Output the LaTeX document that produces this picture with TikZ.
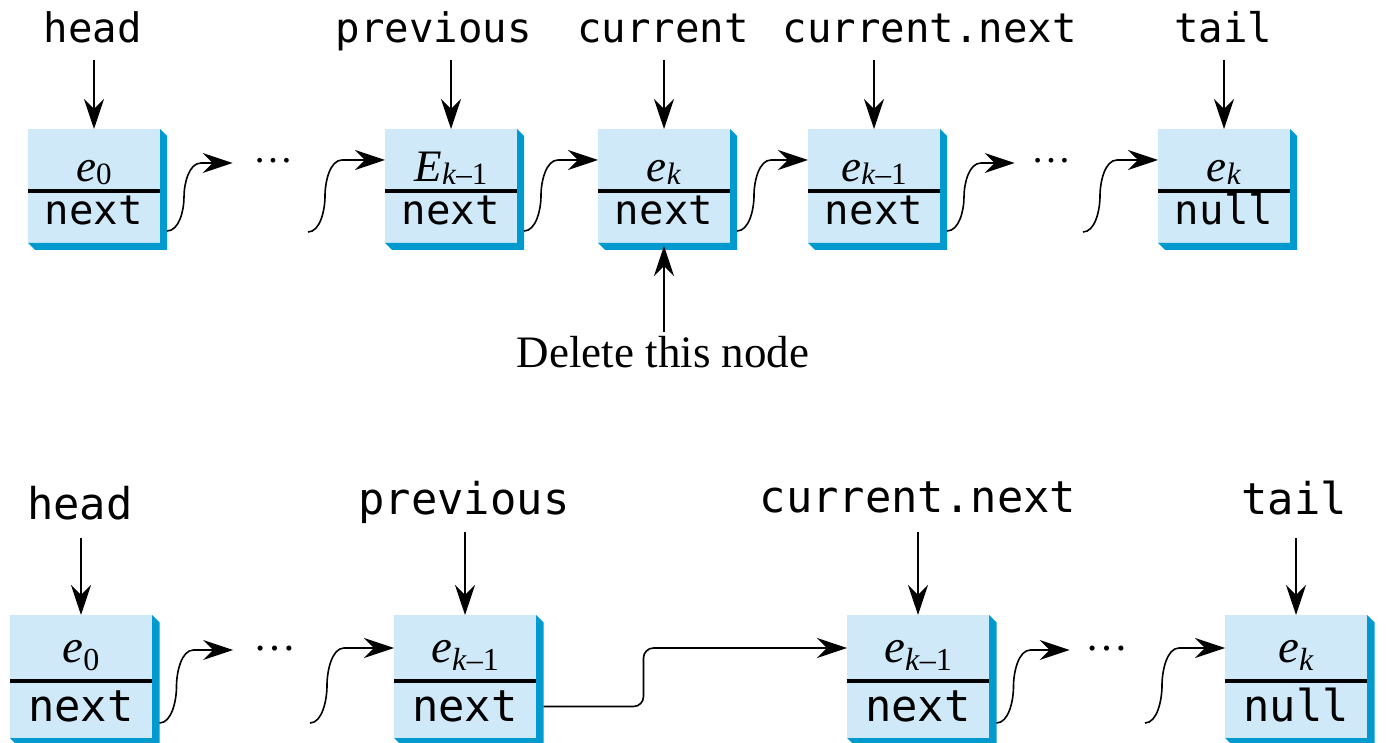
\documentclass[tikz,border=0pt]{standalone}
\usepackage{fontspec}
\setmainfont{Liberation Serif}
\setmonofont{DejaVu Sans Mono}
\usetikzlibrary{arrows.meta,calc}
\definecolor{facec}{RGB}{207,233,248}
\definecolor{shadc}{RGB}{0,154,206}
\newcommand{\subdrop}{-1.5pt}
\newcommand{\subsz}{15.5pt}
\newcommand{\elt}[2]{\textit{#1}\raisebox{\subdrop}{\fontsize{\subsz}{\subsz}\selectfont #2}}
\newcommand{\efont}{\fontsize{22.5pt}{26pt}\selectfont}
\newcommand{\ffont}{\ttfamily\fontsize{20.35pt}{24pt}\selectfont}
\newcommand{\bW}{66pt}
\newcommand{\bHt}{31pt}
\newcommand{\bHb}{26pt}
\newcommand{\bSh}{7}
\newcommand{\bEb}{53}
\newcommand{\bFb}{34}
\tikzset{
  face/.style={fill=facec, inner sep=0pt, outer sep=0pt},
  shadowfill/.style={fill=shadc},
  divider/.style={line width=1.8pt, black},
  elemtext/.style={inner sep=0pt, anchor=base, font=\efont},
  fieldtext/.style={inner sep=0pt, anchor=base, font=\ffont},
  toplbl/.style={anchor=base, inner sep=0pt, font=\ttfamily\fontsize{20.35pt}{24pt}\selectfont},
  botlbl/.style={anchor=base, inner sep=0pt, font=\ttfamily\fontsize{21.9pt}{26pt}\selectfont},
  dellbl/.style={anchor=base, inner sep=0pt, font=\fontsize{22.5pt}{26pt}\selectfont},
  dotsn/.style={anchor=base, inner ysep=0pt},
  arr/.style={-{Stealth[length=15pt,width=10pt,inset=5pt]}, line width=0.8pt},
  conn/.style={-{Stealth[length=15pt,width=10pt,inset=5pt]}, line width=0.8pt},
  sconn/.style={to path={let \p1=(\tikztostart), \p2=(\tikztotarget) in
    .. controls ({\x1+6pt},\y1) and ({\x1+8.5pt},{\y1+0.3*(\y2-\y1)}) .. ({\x1+8.5pt},{0.5*(\y1+\y2)})
    .. controls ({\x1+8.5pt},{\y2-0.3*(\y2-\y1)}) and ({\x1+11pt},\y2) .. ({\x1+17pt},\y2)
    -- (\tikztotarget)}}
}
\newcommand{\lbox}[5]{%
  \node[face, minimum width=\bW, minimum height=\bHt, anchor=north west] (#1-top) at (#2,#3) {};
  \node[face, minimum width=\bW, minimum height=\bHb, anchor=north west] (#1-bot) at (#1-top.south west) {};
  \fill[shadowfill] (#1-top.north east) -- ++(\bSh,\bSh) -- ($(#1-bot.south east)+(\bSh,\bSh)$)
     -- ($(#1-bot.south west)+(\bSh,\bSh)$) -- (#1-bot.south west) -- (#1-bot.south east) -- cycle;
  \draw[divider] (#1-bot.north west) -- (#1-bot.north east);
  \node[elemtext] (#1-e) at ($(#1-top.north)+(0,\bEb)$) {#4};
  \node[fieldtext] (#1-f) at ($(#1-bot.north)+(0,\bFb)$) {#5};
}
\begin{document}
\begin{tikzpicture}[x=0.5pt,y=-0.5pt]
\useasboundingbox (0,0) rectangle (1389,743);

% ---------- top row ----------
\lbox{a1}{28}{129}{\elt{e}{0}}{next}
\lbox{a2}{385}{129}{\elt{E}{\textit{k}–1}}{next}
\lbox{a3}{598}{129}{\elt{e}{\textit{k}}}{next}
\lbox{a4}{808}{129}{\elt{e}{\textit{k}–1}}{next}
\lbox{a5}{1158}{129}{\elt{e}{\textit{k}}}{null}

\node[toplbl] (la1) at (93,43) {head};
\node[toplbl] (la2) at (434,43) {previous};
\node[toplbl] (la3) at (663,43) {current};
\node[toplbl] (la4) at (930,43) {current.next};
\node[toplbl] (la5) at (1223,43) {tail};

\draw[arr] ($(la1.base -| a1-top.north)+(0,17)$) -- (a1-top.north);
\draw[arr] ($(la2.base -| a2-top.north)+(0,17)$) -- (a2-top.north);
\draw[arr] ($(la3.base -| a3-top.north)+(0,17)$) -- (a3-top.north);
\draw[arr] ($(la4.base -| a4-top.north)+(0,17)$) -- (a4-top.north);
\draw[arr] ($(la5.base -| a5-top.north)+(0,17)$) -- (a5-top.north);

\node[dotsn, inner xsep=10pt, font=\fontsize{20pt}{24pt}\selectfont] (d1) at (273,163) {…};
\node[dotsn, inner xsep=8pt, font=\fontsize{20pt}{24pt}\selectfont] (d2) at (1051,163) {…};

\coordinate (a1o) at ($(a1-bot.south east)+(7,-12)$);
\coordinate (s2) at (308,232);
\coordinate (a2o) at ($(a2-bot.south east)+(7,-12)$);
\coordinate (a3o) at ($(a3-bot.south east)+(7,-12)$);
\coordinate (a4o) at ($(a4-bot.south east)+(7,-12)$);
\coordinate (s6) at (1083,232);

\draw[conn] (a1o) to[sconn] (d1.base west);
\draw[conn] (s2) to[sconn] (a2-top.west);
\draw[conn] (a2o) to[sconn] (a3-top.west);
\draw[conn] (a3o) to[sconn] (a4-top.west);
\draw[conn] (a4o) to[sconn] (d2.base west);
\draw[conn] (s6) to[sconn] (a5-top.west);

\node[dellbl] (del) at (663,368) {Delete this node};
\draw[arr] ($(del.base -| a3-bot.south)+(0,-36)$) -- ($(a3-bot.south)+(0,3)$);

% ---------- bottom row ----------
\renewcommand{\bW}{71pt}
\renewcommand{\bHt}{33pt}
\renewcommand{\bHb}{28.5pt}
\renewcommand{\bSh}{7.5}
\renewcommand{\bEb}{47}
\renewcommand{\bFb}{40}
\renewcommand{\efont}{\fontsize{23.5pt}{27pt}\selectfont}
\renewcommand{\ffont}{\ttfamily\fontsize{21.9pt}{26pt}\selectfont}
\renewcommand{\subdrop}{-4pt}
\renewcommand{\subsz}{16pt}

\lbox{b1}{10}{615}{\elt{e}{0}}{next}
\lbox{b2}{394}{615}{\elt{e}{\textit{k}–1}}{next}
\lbox{b3}{847}{615}{\elt{e}{\textit{k}–1}}{next}
\lbox{b4}{1225}{615}{\elt{e}{\textit{k}}}{null}

\node[botlbl] (lb1) at (80,520) {head};
\node[botlbl] (lb2) at (464,515) {previous};
\node[botlbl] (lb3) at (918,513) {current.next};
\node[botlbl] (lb4) at (1294,515) {tail};

\draw[arr] ($(lb1.base -| b1-top.north)+(0,18)$) -- (b1-top.north);
\draw[arr] ($(lb2.base -| b2-top.north)+(0,17)$) -- (b2-top.north);
\draw[arr] ($(lb3.base -| b3-top.north)+(0,19)$) -- (b3-top.north);
\draw[arr] ($(lb4.base -| b4-top.north)+(0,23)$) -- (b4-top.north);

\node[dotsn, inner xsep=10pt, font=\fontsize{21.5pt}{26pt}\selectfont] (d3) at (275,650) {…};
\node[dotsn, inner xsep=7.75pt, font=\fontsize{21.5pt}{26pt}\selectfont] (d4) at (1107,650) {…};

\coordinate (b1o) at ($(b1-bot.south east)+(7.5,-15)$);
\coordinate (s8) at (310,723);
\coordinate (b2o) at ($(b2-bot.east)+(7.5,-3)$);
\coordinate (b3o) at ($(b3-bot.south east)+(7.5,-15)$);
\coordinate (s11) at (1145,723);

\draw[conn] (b1o) to[sconn] (d3.base west);
\draw[conn] (s8) to[sconn] (b2-top.west);
\draw[conn, rounded corners=5pt] (b2o) -- ++(100,0) |- (b3-top.west);
\draw[conn] (b3o) to[sconn] (d4.base west);
\draw[conn] (s11) to[sconn] (b4-top.west);
\end{tikzpicture}
\end{document}
